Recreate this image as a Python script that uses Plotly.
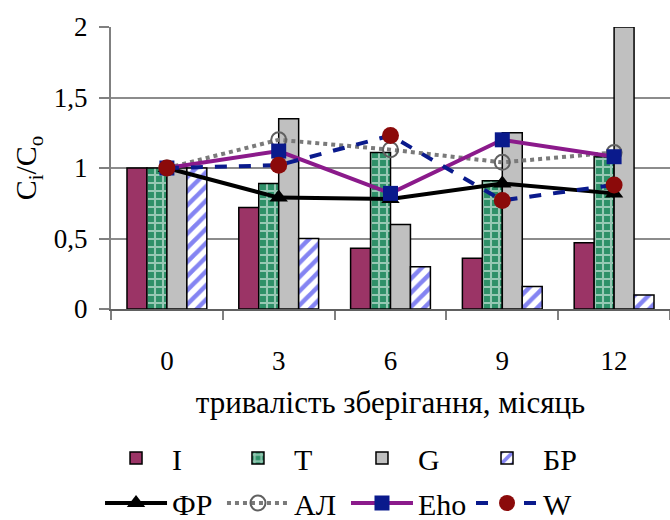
import plotly.graph_objects as go

# Storage duration, months
months = ["0", "3", "6", "9", "12"]

# Relative content C_i/C_o, bar series
val_I = [1.0, 0.72, 0.43, 0.36, 0.47]
val_T = [1.0, 0.89, 1.11, 0.91, 1.08]
val_G = [1.0, 1.35, 0.60, 1.25, 2.0]
val_BR = [1.0, 0.50, 0.30, 0.16, 0.10]

# Relative content C_i/C_o, line series
val_FR = [1.0, 0.79, 0.78, 0.89, 0.82]
val_AL = [1.0, 1.20, 1.13, 1.04, 1.11]
val_Eho = [1.0, 1.12, 0.82, 1.20, 1.08]
val_W = [1.0, 1.02, 1.23, 0.77, 0.88]

FONT = "Liberation Serif"
OUTLINE = dict(color="black", width=1.5)

fig = go.Figure()

fig.add_trace(go.Bar(
    x=months, y=val_I, name="I", legend="legend",
    marker=dict(color="#9B3466", line=OUTLINE),
))
fig.add_trace(go.Bar(
    x=months, y=val_T, name="T", legend="legend2",
    marker=dict(color="white", line=OUTLINE,
                pattern=dict(shape="+", fgcolor="white", bgcolor="#2E9068",
                             size=8, solidity=0.45)),
))
fig.add_trace(go.Bar(
    x=months, y=val_G, name="G", legend="legend3",
    marker=dict(color="#C0C0C0", line=OUTLINE),
))
fig.add_trace(go.Bar(
    x=months, y=val_BR, name="БР", legend="legend4",
    marker=dict(color="white", line=OUTLINE,
                pattern=dict(shape="/", fgcolor="#0A0AE6", bgcolor="white",
                             size=10, solidity=0.45)),
))

fig.add_trace(go.Scatter(
    x=months, y=val_AL, name="АЛ", legend="legend6",
    mode="lines+markers",
    line=dict(color="#7A7A7A", width=4, dash="dot"),
    marker=dict(symbol="circle-open", size=15, color="#606060",
                line=dict(width=2, color="#606060")),
))
fig.add_trace(go.Scatter(
    x=months, y=val_FR, name="ФР", legend="legend5",
    mode="lines+markers",
    line=dict(color="black", width=4),
    marker=dict(symbol="triangle-up", size=16, color="black"),
))
fig.add_trace(go.Scatter(
    x=months, y=val_Eho, name="Eho", legend="legend7",
    mode="lines+markers",
    line=dict(color="#8B1A8B", width=4),
    marker=dict(symbol="square", size=15, color="#0A1A8C"),
))
fig.add_trace(go.Scatter(
    x=months, y=val_W, name="W", legend="legend8",
    mode="lines+markers",
    line=dict(color="#0A1A8C", width=4, dash="dash"),
    marker=dict(symbol="circle", size=17, color="#8B0A0A"),
))


def legend_at(x, y):
    return dict(
        x=x, y=y, xref="container", yref="container",
        xanchor="left", yanchor="middle",
        orientation="h",
        font=dict(family=FONT, size=30, color="black"),
        itemwidth=62, bgcolor="rgba(0,0,0,0)",
    )


# legend grid (container fractions): four columns, two rows under the axis title
cols = [0.1493, 0.3313, 0.5164, 0.7030]
row1, row2 = 0.1192, 0.0327
fig.update_layout(
    width=670, height=520,
    margin=dict(l=111, r=0, t=27, b=211),
    paper_bgcolor="white", plot_bgcolor="white",
    separators=", ",
    showlegend=True,
    barmode="group", bargap=0.286, bargroupgap=0,
    font=dict(family=FONT, size=28, color="black"),
    legend=legend_at(cols[0], row1),
    legend2=legend_at(cols[1], row1),
    legend3=legend_at(cols[2], row1),
    legend4=legend_at(cols[3], row1),
    legend5=legend_at(cols[0], row2),
    legend6=legend_at(cols[1], row2),
    legend7=legend_at(cols[2], row2),
    legend8=legend_at(cols[3], row2),
    xaxis=dict(
        type="category", tickson="boundaries", ticks="outside", ticklen=9,
        tickcolor="#808080", tickwidth=1.5,
        showline=True, linecolor="#606060", linewidth=2,
        ticklabelstandoff=27,
        tickfont=dict(family=FONT, size=27),
        title=dict(text="тривалість зберігання, місяць",
                   font=dict(family=FONT, size=31), standoff=16),
    ),
    yaxis=dict(
        range=[0, 2], dtick=0.5, ticks="outside", ticklen=10,
        tickcolor="#808080", tickwidth=1.5,
        showline=True, linecolor="#808080", linewidth=2,
        showgrid=True, gridcolor="#8C8C8C", gridwidth=1.5,
        zeroline=False, ticklabelstandoff=6,
        tickfont=dict(family=FONT, size=27),
        title=dict(text="C<sub>i</sub>/C<sub>o</sub>",
                   font=dict(family=FONT, size=30), standoff=8),
    ),
)

fig.write_html("out.html")
